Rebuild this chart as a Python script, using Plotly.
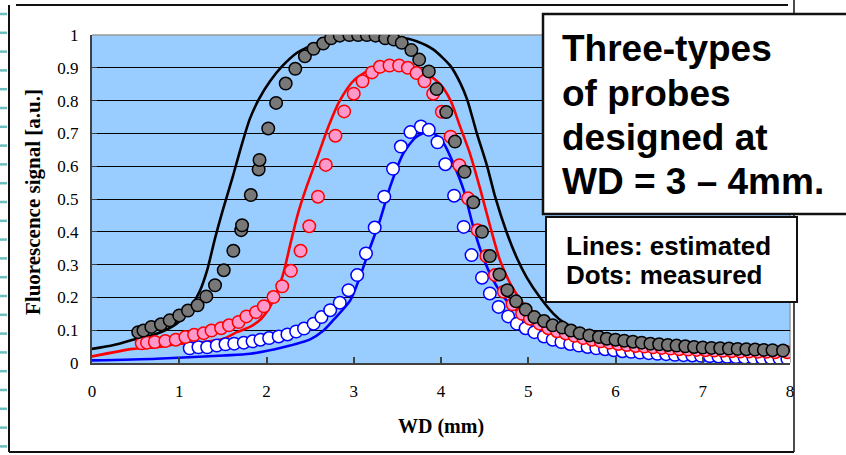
import plotly.graph_objects as go

# ---------------- data ----------------
# Probe 1 (black / gray)
gray_x = [0.53, 0.59, 0.68, 0.79, 0.89, 1.00, 1.10, 1.21, 1.31, 1.41, 1.51, 1.62, 1.71, 1.72, 1.82, 1.91, 1.92,
          2.02, 2.11, 2.22, 2.33, 2.44, 2.54, 2.65, 2.74, 2.84, 2.95, 3.05, 3.15, 3.25, 3.36, 3.46, 3.55,
          3.66, 3.75, 3.86, 3.95, 4.06, 4.16, 4.27, 4.37, 4.47, 4.56, 4.67, 4.76, 4.86, 4.97, 5.07, 5.18,
          5.28, 5.39, 5.49, 5.59, 5.70, 5.81, 5.90, 6.00, 6.10, 6.20, 6.30, 6.40, 6.50, 6.60, 6.70, 6.80,
          6.90, 7.00, 7.10, 7.20, 7.30, 7.40, 7.50, 7.60, 7.70, 7.80, 7.92]
gray_y = [0.094, 0.099, 0.110, 0.118, 0.130, 0.145, 0.160, 0.176, 0.203, 0.237, 0.283, 0.342, 0.405, 0.420,
          0.512, 0.590, 0.619, 0.715, 0.793, 0.852, 0.897, 0.935, 0.958, 0.974, 0.990, 0.998, 1.000,
          1.000, 1.000, 0.998, 0.990, 0.986, 0.976, 0.954, 0.925, 0.889, 0.835, 0.765, 0.675, 0.583,
          0.490, 0.400, 0.326, 0.270, 0.222, 0.188, 0.163, 0.140, 0.128, 0.115, 0.108, 0.099, 0.091,
          0.084, 0.079, 0.074, 0.071, 0.068, 0.065, 0.062, 0.059, 0.057, 0.055, 0.053, 0.051, 0.049,
          0.047, 0.046, 0.045, 0.044, 0.043, 0.042, 0.041, 0.040, 0.039, 0.038]
black_x = [0, 0.25, 0.47, 0.74, 0.97, 1.12, 1.24, 1.32, 1.41, 1.51, 1.61, 1.71, 1.81, 1.91, 2.04, 2.18,
           2.35, 2.46, 2.60, 2.80, 3.00, 3.20, 3.40, 3.53, 3.72, 3.91, 4.11, 4.22, 4.30, 4.41, 4.53,
           4.62, 4.75, 4.87, 4.98, 5.14, 5.29, 5.40, 5.60, 6.00, 6.50, 7.00, 7.50, 8.00]
black_y = [0.043, 0.055, 0.071, 0.089, 0.120, 0.165, 0.222, 0.283, 0.380, 0.476, 0.565, 0.660, 0.745,
           0.803, 0.859, 0.905, 0.946, 0.961, 0.978, 0.992, 0.998, 1.000, 0.996, 0.993, 0.981, 0.956,
           0.905, 0.854, 0.803, 0.701, 0.599, 0.507, 0.400, 0.320, 0.262, 0.198, 0.150, 0.125, 0.100,
           0.075, 0.062, 0.053, 0.047, 0.042]

# Probe 2 (red / pink)
pink_x = [0.57, 0.63, 0.72, 0.84, 0.96, 1.07, 1.17, 1.28, 1.37, 1.48, 1.57, 1.68, 1.77, 1.88, 1.97, 2.08,
          2.18, 2.28, 2.39, 2.49, 2.59, 2.68, 2.79, 2.89, 3.00, 3.10, 3.21, 3.30, 3.41, 3.52, 3.62, 3.72,
          3.81, 3.91, 4.01, 4.11, 4.21, 4.31, 4.42, 4.52, 4.62, 4.72, 4.82, 4.93, 5.02, 5.13, 5.23, 5.33,
          5.43, 5.53, 5.63, 5.73, 5.83, 5.93, 6.03, 6.13, 6.23, 6.33, 6.43, 6.53, 6.63, 6.73, 6.83, 6.93,
          7.03, 7.13, 7.23, 7.33, 7.43, 7.53, 7.63, 7.73, 7.83, 7.97]
pink_y = [0.060, 0.062, 0.064, 0.067, 0.071, 0.079, 0.086, 0.091, 0.099, 0.106, 0.115, 0.125, 0.142,
          0.155, 0.173, 0.201, 0.234, 0.281, 0.342, 0.417, 0.507, 0.604, 0.693, 0.767, 0.821, 0.859,
          0.886, 0.903, 0.907, 0.907, 0.900, 0.884, 0.859, 0.821, 0.766, 0.690, 0.603, 0.502, 0.405,
          0.326, 0.268, 0.217, 0.179, 0.150, 0.135, 0.120, 0.106, 0.097, 0.090, 0.083, 0.076, 0.071,
          0.066, 0.062, 0.058, 0.055, 0.052, 0.050, 0.048, 0.046, 0.044, 0.042, 0.041, 0.040, 0.039,
          0.038, 0.037, 0.036, 0.035, 0.035, 0.034, 0.034, 0.033, 0.033]
red_x = [0, 0.47, 0.74, 1.01, 1.28, 1.51, 1.66, 1.81, 1.94, 2.04, 2.12, 2.19, 2.28, 2.36, 2.45, 2.58,
         2.71, 2.84, 3.01, 3.23, 3.45, 3.65, 3.85, 3.99, 4.11, 4.22, 4.33, 4.45, 4.56, 4.68, 4.83, 4.98,
         5.17, 5.37, 5.60, 6.00, 6.50, 7.00, 7.50, 8.00]
red_y = [0.020, 0.043, 0.048, 0.059, 0.064, 0.074, 0.094, 0.110, 0.135, 0.171, 0.215, 0.270, 0.370,
         0.455, 0.530, 0.625, 0.721, 0.800, 0.864, 0.900, 0.912, 0.905, 0.880, 0.850, 0.800, 0.720,
         0.640, 0.530, 0.420, 0.310, 0.225, 0.172, 0.135, 0.110, 0.090, 0.065, 0.048, 0.038, 0.030, 0.025]

# Probe 3 (blue / white)
white_x = [1.12, 1.22, 1.32, 1.43, 1.53, 1.63, 1.74, 1.84, 1.93, 2.03, 2.14, 2.24, 2.34, 2.43, 2.54, 2.63,
           2.73, 2.84, 2.94, 3.04, 3.14, 3.24, 3.35, 3.45, 3.54, 3.65, 3.77, 3.86, 3.96, 4.05, 4.15, 4.26,
           4.35, 4.47, 4.56, 4.66, 4.77, 4.87, 4.97, 5.07, 5.18, 5.28, 5.38, 5.48, 5.58, 5.68, 5.78, 5.88,
           5.98, 6.08, 6.18, 6.28, 6.38, 6.48, 6.58, 6.68, 6.78, 6.88, 6.98, 7.08, 7.18, 7.28, 7.38, 7.48,
           7.58, 7.68, 7.78, 7.88, 7.97]
white_y = [0.045, 0.048, 0.048, 0.053, 0.057, 0.059, 0.062, 0.066, 0.071, 0.076, 0.081, 0.087, 0.096,
           0.105, 0.120, 0.140, 0.161, 0.184, 0.222, 0.268, 0.334, 0.413, 0.507, 0.592, 0.660, 0.704,
           0.721, 0.711, 0.673, 0.606, 0.510, 0.415, 0.329, 0.260, 0.212, 0.171, 0.142, 0.120, 0.106,
           0.094, 0.081, 0.071, 0.064, 0.058, 0.053, 0.049, 0.045, 0.042, 0.039, 0.036, 0.034, 0.032,
           0.030, 0.028, 0.027, 0.025, 0.024, 0.023, 0.022, 0.021, 0.020, 0.019, 0.018, 0.017, 0.016,
           0.015, 0.015, 0.014, 0.013]
blue_x = [0, 0.74, 1.51, 1.81, 2.19, 2.50, 2.65, 2.77, 2.96, 3.07, 3.19, 3.30, 3.42, 3.57, 3.72, 3.88, 4.03,
          4.14, 4.26, 4.37, 4.48, 4.60, 4.75, 4.91, 5.10, 5.33, 5.60, 6.00, 6.50, 7.00, 7.50, 8.00]
blue_y = [0.008, 0.013, 0.023, 0.028, 0.048, 0.072, 0.098, 0.132, 0.191, 0.262, 0.354, 0.435, 0.540,
          0.640, 0.690, 0.706, 0.670, 0.609, 0.527, 0.415, 0.324, 0.252, 0.191, 0.150, 0.110, 0.074,
          0.055, 0.040, 0.030, 0.020, 0.015, 0.010]

x_ticks = [0, 1, 2, 3, 4, 5, 6, 7, 8]
y_ticks = [0, 0.1, 0.2, 0.3, 0.4, 0.5, 0.6, 0.7, 0.8, 0.9, 1]
y_tick_text = ["0", "0.1", "0.2", "0.3", "0.4", "0.5", "0.6", "0.7", "0.8", "0.9", "1"]

title_text = ["Three-types", "of probes", "designed at", "WD = 3 \u2013 4mm."]
note_text = ["Lines: estimated", "Dots: measured"]

# ---------------- layout helpers ----------------
W, H = 846, 455
ML, MR, MT, MB = 92, 56, 35, 92
PW, PH = W - ML - MR, H - MT - MB


def px(x):
    return (x - ML) / PW


def py(y):
    return (H - MB - y) / PH


SERIF = "Liberation Serif, Times New Roman, serif"
SANS = "Liberation Sans, Arial, sans-serif"

fig = go.Figure()

line_w = 2.6
fig.add_trace(go.Scatter(x=blue_x, y=blue_y, mode="lines", line=dict(color="#0000FF", width=line_w, shape="spline", smoothing=0.7)))
fig.add_trace(go.Scatter(x=red_x, y=red_y, mode="lines", line=dict(color="#FF0000", width=line_w, shape="spline", smoothing=0.7)))
fig.add_trace(go.Scatter(x=black_x, y=black_y, mode="lines", line=dict(color="#000000", width=line_w, shape="spline", smoothing=0.7)))

msize = 12.5
fig.add_trace(go.Scatter(x=white_x, y=white_y, mode="markers",
                         marker=dict(size=msize, color="#FFFFFF", line=dict(color="#0000FF", width=1.5))))
fig.add_trace(go.Scatter(x=pink_x, y=pink_y, mode="markers",
                         marker=dict(size=msize, color="#FF99CC", line=dict(color="#FF0000", width=1.5))))
fig.add_trace(go.Scatter(x=gray_x, y=gray_y, mode="markers",
                         marker=dict(size=msize, color="#787878", line=dict(color="#000000", width=1.5))))

shapes = []
# gray top / right border of the plot area
shapes.append(dict(type="line", xref="paper", yref="paper", x0=0, x1=1, y0=1, y1=1,
                   line=dict(color="#9a9a9a", width=1.5), layer="between"))
shapes.append(dict(type="line", xref="paper", yref="paper", x0=1, x1=1, y0=0, y1=1,
                   line=dict(color="#9a9a9a", width=1.5), layer="between"))
# outer frame
frame = dict(color="#111111", width=2)
shapes.append(dict(type="line", xref="paper", yref="paper", x0=px(16), x1=px(788), y0=py(5), y1=py(5), line=frame))
shapes.append(dict(type="line", xref="paper", yref="paper", x0=px(9), x1=px(9), y0=py(5), y1=py(452), line=frame))
shapes.append(dict(type="line", xref="paper", yref="paper", x0=px(9), x1=px(794), y0=py(452), y1=py(452), line=frame))
shapes.append(dict(type="line", xref="paper", yref="paper", x0=px(794), x1=px(794), y0=py(0), y1=py(452), line=dict(color="#111111", width=1.5)))
# left slide decoration dashes
for k in range(24):
    yy = 14 + k * 18.8
    shapes.append(dict(type="line", xref="paper", yref="paper", x0=px(0), x1=px(7), y0=py(yy), y1=py(yy),
                       line=dict(color="#6DBFBF", width=2.5)))
# text boxes
shapes.append(dict(type="rect", xref="paper", yref="paper", x0=px(543), x1=px(860), y0=py(214), y1=py(14),
                   fillcolor="white", line=dict(color="#111111", width=2.5), layer="above"))
shapes.append(dict(type="rect", xref="paper", yref="paper", x0=px(546), x1=px(797), y0=py(302), y1=py(217),
                   fillcolor="white", line=dict(color="#111111", width=2), layer="above"))

annotations = []
for i, t in enumerate(title_text):
    base = 61.7 + i * 44.4
    annotations.append(dict(text="<b>%s</b>" % t, xref="paper", yref="paper", x=px(560), y=py(base - 13),
                            xanchor="left", yanchor="middle", showarrow=False,
                            font=dict(family=SANS, size=37, color="black")))
for i, t in enumerate(note_text):
    base = 254 + i * 29.3
    annotations.append(dict(text="<b>%s</b>" % t, xref="paper", yref="paper", x=px(564), y=py(base - 8),
                            xanchor="left", yanchor="middle", showarrow=False,
                            font=dict(family=SANS, size=26, color="black")))
annotations.append(dict(text="<b>WD (mm)</b>", xref="paper", yref="paper", x=0.5, y=py(426),
                        xanchor="center", yanchor="middle", showarrow=False,
                        font=dict(family=SERIF, size=20, color="black")))
annotations.append(dict(text="<b>Fluorescence signal [a.u.]</b>", xref="paper", yref="paper", x=px(33), y=py(202),
                        xanchor="center", yanchor="middle", showarrow=False, textangle=-90,
                        font=dict(family=SERIF, size=21, color="black")))

fig.update_layout(
    width=W, height=H,
    margin=dict(l=ML, r=MR, t=MT, b=MB, pad=0),
    paper_bgcolor="white", plot_bgcolor="#99CCFF",
    showlegend=False,
    shapes=shapes, annotations=annotations,
    xaxis=dict(range=[0, 8], tickvals=x_ticks, ticktext=[str(v) for v in x_ticks],
               showgrid=False, zeroline=False, showline=True, linecolor="#404040", linewidth=2,
               ticks="inside", ticklen=6, tickcolor="#404040", tickwidth=1.5,
               tickfont=dict(family=SERIF, size=17, color="black"), ticklabelstandoff=12),
    yaxis=dict(range=[0, 1], tickvals=y_ticks, ticktext=y_tick_text,
               showgrid=True, gridcolor="#000000", gridwidth=1, zeroline=False,
               showline=True, linecolor="#404040", linewidth=2,
               ticks="inside", ticklen=5, tickcolor="#404040",
               tickfont=dict(family=SERIF, size=17, color="black"), ticklabelstandoff=8),
)

fig.write_html("out.html")
